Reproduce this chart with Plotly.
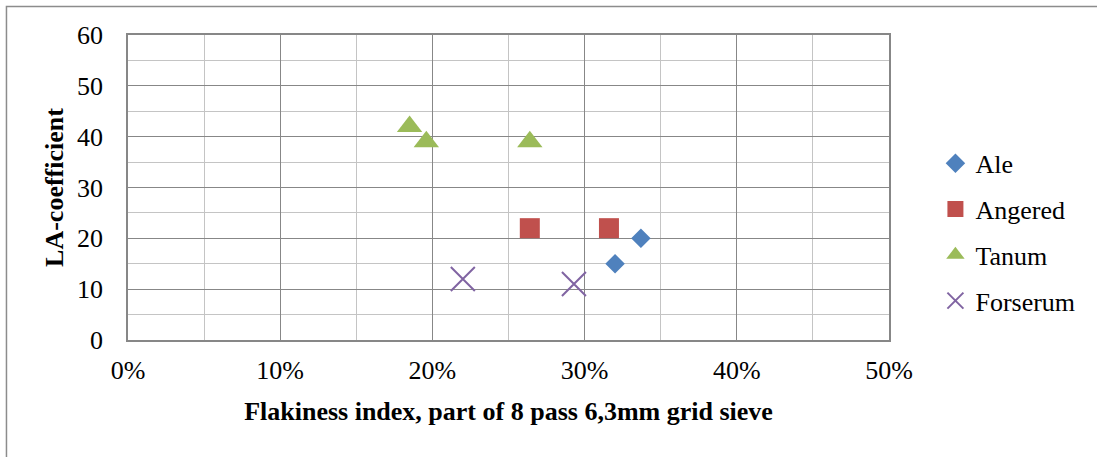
import plotly.graph_objects as go

series_names = ["Ale", "Angered", "Tanum", "Forserum"]
ale_x = [0.320, 0.337]
ale_y = [15, 20]
angered_x = [0.264, 0.316]
angered_y = [22, 22]
tanum_x = [0.185, 0.196, 0.264]
tanum_y = [42, 39, 39]
forserum_x = [0.220, 0.293]
forserum_y = [12, 11]

x_ticks = [0, 0.1, 0.2, 0.3, 0.4, 0.5]
x_labels = ["0%", "10%", "20%", "30%", "40%", "50%"]
y_ticks = [0, 10, 20, 30, 40, 50, 60]

FONT = "Liberation Serif"
FS = 26

fig = go.Figure()
fig.add_trace(go.Scatter(x=ale_x, y=ale_y, mode="markers", name="Ale", legendgroup="a",
                         marker=dict(symbol="diamond", size=15, color="#4F81BD")))
fig.add_trace(go.Scatter(x=angered_x, y=angered_y, mode="markers", name="Angered", legendgroup="b",
                         marker=dict(symbol="square", size=20, color="#C0504D")))
fig.add_trace(go.Scatter(x=tanum_x, y=tanum_y, mode="markers", name="Tanum", legendgroup="c",
                         marker=dict(symbol="triangle-up", size=22, color="#9BBB59")))
fig.add_trace(go.Scatter(x=forserum_x, y=forserum_y, mode="markers", name="Forserum", legendgroup="d",
                         marker=dict(symbol="x-thin-open", size=24, color="#8064A2",
                                     line=dict(color="#8064A2", width=2))))

fig.update_layout(
    width=1097, height=457,
    margin=dict(l=128, r=208, t=35, b=117, autoexpand=False),
    paper_bgcolor="white", plot_bgcolor="white",
    font=dict(family=FONT, size=FS, color="black"),
    showlegend=True,
    legend=dict(x=1.061, xanchor="left", y=0.353, yanchor="middle",
                font=dict(family=FONT, size=FS, color="black"),
                tracegroupgap=9, bgcolor="rgba(0,0,0,0)"),
    shapes=[dict(type="rect", xref="paper", yref="paper",
                 x0=-0.1597, y0=-0.45, x1=1.40, y1=1.0934,
                 line=dict(color="#8c8c8c", width=1.5), layer="below")],
)

fig.update_xaxes(
    range=[0, 0.5], tickvals=x_ticks, ticktext=x_labels, automargin=False,
    showgrid=True, gridcolor="#878787", gridwidth=1.3,
    minor=dict(dtick=0.05, tick0=0, showgrid=True, gridcolor="#c4c4c4", gridwidth=1.3),
    showline=True, linecolor="#878787", linewidth=1.5, mirror=True,
    zeroline=False, ticks="", ticklabelstandoff=6,
    tickfont=dict(family=FONT, size=FS, color="black"),
    title=dict(text="<b>Flakiness index, part of 8 pass 6,3mm grid sieve</b>",
               font=dict(family=FONT, size=FS, color="black"), standoff=18),
)
fig.update_yaxes(
    range=[0, 60], tickvals=y_ticks, automargin=False,
    showgrid=True, gridcolor="#878787", gridwidth=1.3,
    minor=dict(dtick=5, tick0=0, showgrid=True, gridcolor="#c4c4c4", gridwidth=1.3),
    showline=True, linecolor="#878787", linewidth=1.5, mirror=True,
    zeroline=False, ticks="", ticklabelstandoff=18,
    tickfont=dict(family=FONT, size=FS, color="black"),
    title=dict(text="<b>LA-coefficient</b>",
               font=dict(family=FONT, size=FS, color="black"), standoff=6),
)

fig.write_html("out.html", config={"displayModeBar": False},
               post_script="document.body.style.margin='0';document.body.style.overflow='hidden';")
